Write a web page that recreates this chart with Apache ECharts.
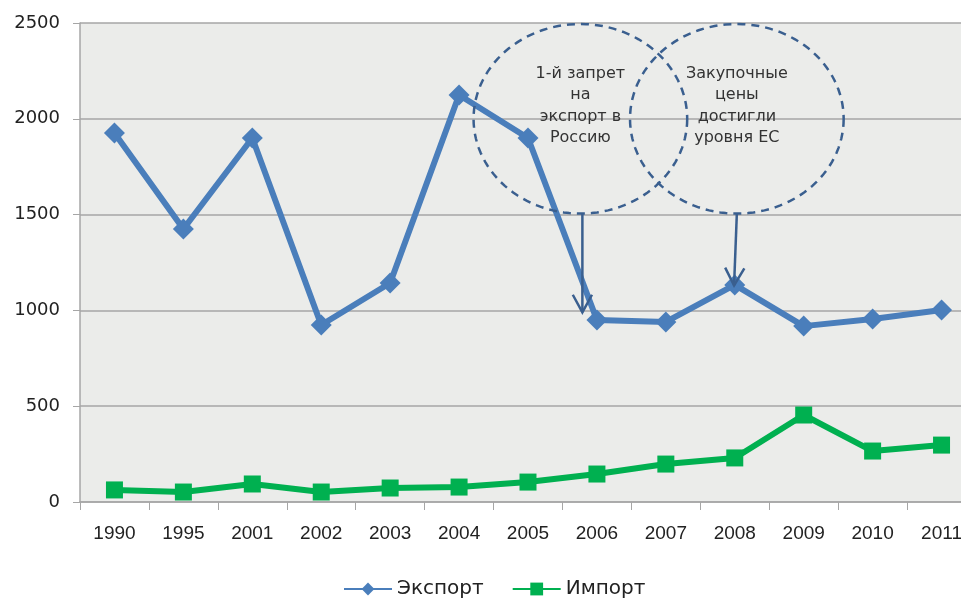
<!DOCTYPE html>
<html><head><meta charset="utf-8">
<script src="https://cdn.jsdelivr.net/npm/echarts@6/dist/echarts.min.js"></script>
<style>html,body{margin:0;padding:0;background:#fff;overflow:hidden}#c{width:976px;height:598px}</style>
</head><body><div id="c"></div>
<script>
var categories = ['1990','1995','2001','2002','2003','2004','2005','2006','2007','2008','2009','2010','2011'];
var exportValues = [1926, 1425, 1900, 924, 1143, 2124, 1900, 950, 940, 1133, 918, 955, 1002];
var importValues = [63, 52, 94, 52, 73, 78, 104, 146, 198, 230, 454, 266, 297];
var yTicks = [0, 500, 1000, 1500, 2000, 2500];
var note1 = ['1-й запрет', 'на', 'экспорт в', 'Россию'];
var note2 = ['Закупочные', 'цены', 'достигли', 'уровня ЕС'];

var chart = echarts.init(document.getElementById('c'));
var labelFont = "'Liberation Sans Narrow', 'Liberation Sans', sans-serif";
chart.setOption({
  animation: false,
  grid: {left: 80, top: 23, right: 0, bottom: 96, show: true, backgroundColor: '#ebecea', borderWidth: 0},
  legend: {
    bottom: -6, left: 338, itemWidth: 48, itemHeight: 16, itemGap: 28,
    textStyle: {fontSize: 20, color: '#222', fontFamily: "'DejaVu Sans', sans-serif"},
    data: ['Экспорт', 'Импорт']
  },
  xAxis: {
    type: 'category', data: categories, boundaryGap: true,
    axisLine: {lineStyle: {color: '#a6a6a6', width: 1.5}},
    axisTick: {show: true, length: 8, lineStyle: {color: '#a6a6a6'}},
    axisLabel: {fontSize: 19, color: '#222', margin: 22, fontFamily: labelFont}
  },
  yAxis: {
    type: 'value', min: yTicks[0], max: yTicks[yTicks.length - 1], interval: 500,
    axisLine: {show: true, lineStyle: {color: '#a6a6a6', width: 1.5}},
    axisTick: {show: true, length: 7, lineStyle: {color: '#a6a6a6'}},
    axisLabel: {fontSize: 18, color: '#222', margin: 20, fontFamily: "'DejaVu Sans', sans-serif",
      formatter: function (v) { return String(v); }},
    splitLine: {lineStyle: {color: '#a6a6a6', width: 1.5}}
  },
  series: [
    {name: 'Экспорт', type: 'line', data: exportValues, symbol: 'diamond', symbolSize: 21,
     itemStyle: {color: '#4a7ebb'}, lineStyle: {width: 6, color: '#4a7ebb'}},
    {name: 'Импорт', type: 'line', data: importValues, symbol: 'rect', symbolSize: 17,
     itemStyle: {color: '#00b050'}, lineStyle: {width: 6, color: '#00b050'}}
  ]
});

var p0 = chart.convertToPixel({gridIndex: 0}, [0, 0]);
var p1 = chart.convertToPixel({gridIndex: 0}, [1, 500]);
var stepX = p1[0] - p0[0], per500 = p0[1] - p1[1];
function px(ix, v) { return [p0[0] + ix * stepX, p0[1] - v / 500 * per500]; }
var c1 = px(6.76, 2000), c2 = px(9.03, 2000);
var rx = 1.55 * stepX;
var ry = c1[1] - px(0, 2500)[1] - 1;
var a2end = px(8.99, 1130);
var dash = {stroke: '#3a5f8f', lineWidth: 2.5, lineDash: [8, 6], fill: null};
var els = [];
[c1, c2].forEach(function (c) {
  var pts = [];
  for (var k = 0; k < 120; k++) {
    var t = k / 120 * Math.PI * 2;
    pts.push([c[0] + rx * Math.cos(t), c[1] + ry * Math.sin(t)]);
  }
  els.push({type: 'polygon', shape: {points: pts}, style: dash, z: 100});
});
function textBlock(lines, c) {
  lines.forEach(function (t, i) {
    els.push({type: 'text', x: c[0], y: c[1] - 45 + i * 21.5,
      style: {text: t, fill: '#333', font: "16px 'DejaVu Sans', sans-serif", textAlign: 'center', textVerticalAlign: 'middle'}, z: 101});
  });
}
textBlock(note1, c1); textBlock(note2, c2);
function arrow(sx, sy, ex, ey) {
  els.push({type: 'line', shape: {x1: sx, y1: sy, x2: ex, y2: ey}, style: {stroke: '#3a5f8f', lineWidth: 2.5}, z: 100});
  var ang = Math.atan2(ey - sy, ex - sx), L = 20, w = 0.5;
  els.push({type: 'polyline', shape: {points: [
    [ex - L * Math.cos(ang - w), ey - L * Math.sin(ang - w)], [ex, ey],
    [ex - L * Math.cos(ang + w), ey - L * Math.sin(ang + w)]]},
    style: {stroke: '#3a5f8f', lineWidth: 2.5, fill: null}, z: 100});
}
arrow(c1[0] + 2, c1[1] + ry, c1[0] + 2, px(0, 990)[1]);
arrow(c2[0], c2[1] + ry, a2end[0], a2end[1]);
chart.setOption({graphic: {elements: els}});
</script></body></html>
